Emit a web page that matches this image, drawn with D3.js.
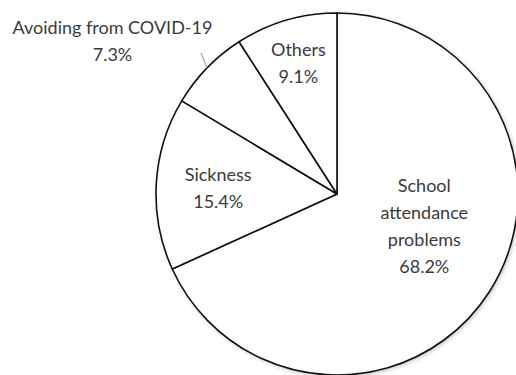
<!DOCTYPE html>
<html>
<head>
<meta charset="utf-8">
<script src="https://cdn.jsdelivr.net/npm/d3@7"></script>
<style>
    body { margin: 0; background: #fff; }
    text { font-family: Lato, "Noto Sans", sans-serif; font-size: 18px; fill: #3a3a3a; }
</style>
</head>
<body>
<div id="chart"></div>
<script>
// data
let categories = ["School attendance problems", "Sickness", "Avoiding from COVID-19", "Others"];
let labelLines = [["School", "attendance", "problems"], ["Sickness"], ["Avoiding from COVID-19"], ["Others"]];
let shares = [68.2, 15.4, 7.3, 9.1];

let width = 516, height = 375;
let cx = 337, cy = 194, radius = 181;

// label placement: radius of label centre and small nudges (layout, not data)
let labelLayout = [
    {r: 80, dx: 20, dy: -12},
    {r: 119, dx: 0, dy: 0},
    {r: 250, dx: -45, dy: 20},
    {r: 137, dx: 0, dy: 0}
];

let data = categories.map((c, i) => ({name: c, lines: labelLines[i], value: shares[i]}));

let svg = d3.select("#chart").append("svg")
    .attr("width", width)
    .attr("height", height);

let defs = svg.append("defs");
let filter = defs.append("filter").attr("id", "shadow")
    .attr("x", "-10%").attr("y", "-10%").attr("width", "120%").attr("height", "120%");
filter.append("feDropShadow")
    .attr("dx", 1.5).attr("dy", 1.5).attr("stdDeviation", 2)
    .attr("flood-color", "#000").attr("flood-opacity", 0.25);

let g = svg.append("g")
    .attr("transform", `translate(${cx}, ${cy})`);

let pie = d3.pie().sort(null).value(d => d.value);
let arc = d3.arc().innerRadius(0).outerRadius(radius);
let arcs = pie(data);

g.append("circle")
    .attr("r", radius)
    .attr("fill", "#fff")
    .attr("filter", "url(#shadow)");

g.selectAll("path.slice")
    .data(arcs)
    .enter()
    .append("path")
    .attr("class", "slice")
    .attr("d", arc)
    .attr("fill", "#fff")
    .attr("stroke", "#111")
    .attr("stroke-width", 1.6)
    .attr("stroke-linejoin", "round");

// label positions
let lineH = 27;
function labelPos(d, i) {
    let a = (d.startAngle + d.endAngle) / 2;
    let L = labelLayout[i];
    return [L.r * Math.sin(a) + L.dx, -L.r * Math.cos(a) + L.dy];
}

let labels = g.selectAll("g.label")
    .data(arcs)
    .enter()
    .append("g")
    .attr("class", "label")
    .attr("transform", (d, i) => {
        let p = labelPos(d, i);
        return `translate(${p[0]}, ${p[1]})`;
    });

labels.each(function(d) {
    let lines = d.data.lines.concat([d.data.value.toFixed(1) + "%"]);
    let n = lines.length;
    d3.select(this).selectAll("text")
        .data(lines)
        .enter()
        .append("text")
        .attr("text-anchor", "middle")
        .attr("dominant-baseline", "central")
        .attr("y", (t, j) => (j - (n - 1) / 2) * lineH)
        .text(t => t);
});

// leader line for the small outside label
let avoid = arcs[2];
let midA = (avoid.startAngle + avoid.endAngle) / 2;
let edge = [radius * Math.sin(midA), -radius * Math.cos(midA)];
g.append("line")
    .attr("x1", edge[0])
    .attr("y1", edge[1])
    .attr("x2", edge[0] - 6)
    .attr("y2", edge[1] - 15)
    .attr("stroke", "#a6a6a6")
    .attr("stroke-width", 1.2);
</script>
</body>
</html>
